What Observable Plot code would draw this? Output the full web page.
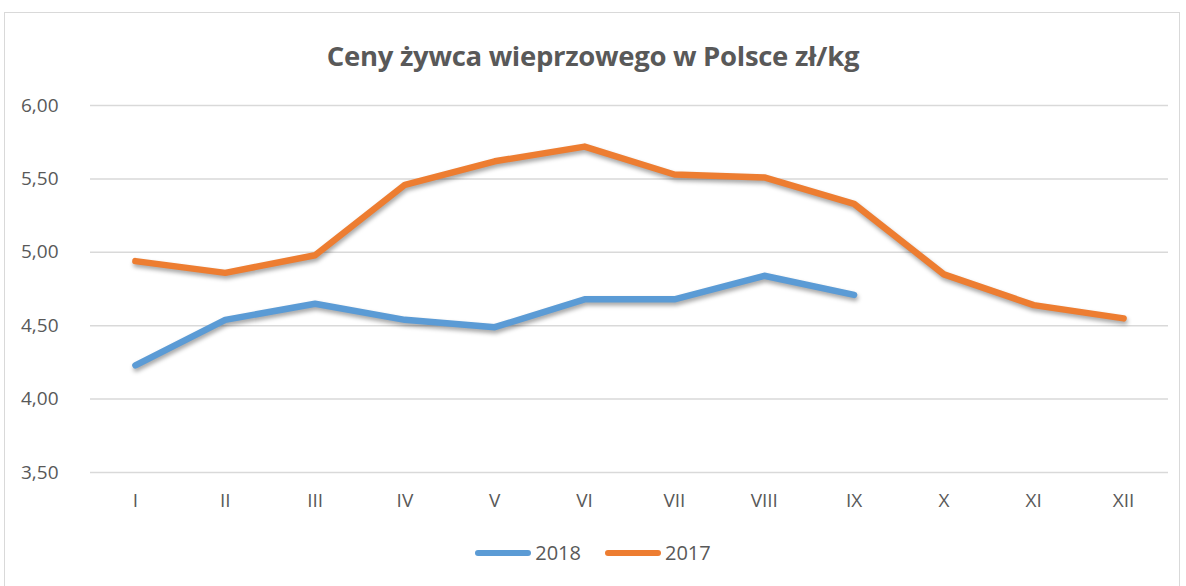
<!DOCTYPE html>
<html>
<head>
<meta charset="utf-8">
<script src="https://cdn.jsdelivr.net/npm/d3@7"></script>
<script src="https://cdn.jsdelivr.net/npm/@observablehq/plot@0.6"></script>
<style>
  html, body { margin: 0; padding: 0; background: #fff; overflow: hidden; }
  body { width: 1186px; height: 586px; position: relative; font-family: "Open Sans", sans-serif; }
  #frame { position: absolute; left: 4px; top: 12px; width: 1176px; height: 600px; border: 1.5px solid #d9d9d9; box-sizing: border-box; }
  #title { position: absolute; left: 0; top: 36px; width: 1186px; text-align: center; font-size: 27.5px; font-weight: bold; color: #595959; letter-spacing: -0.3px; line-height: 40px; }
  #chart { position: absolute; left: 0; top: 0; }
  #legend { position: absolute; left: 0; top: 539px; width: 1186px; display: flex; justify-content: center; gap: 24px; font-size: 20px; color: #595959; line-height: 28px; }
  .item { display: flex; align-items: center; }
  .sw { width: 56px; height: 6px; border-radius: 3px; margin-right: 4px; }
</style>
</head>
<body>
<div id="frame"></div>
<div id="chart"></div>
<div id="title">Ceny żywca wieprzowego w Polsce zł/kg</div>
<div id="legend"></div>
<script>
const months = ["I","II","III","IV","V","VI","VII","VIII","IX","X","XI","XII"];
const series = ["2018", "2017"];
const values2018 = [4.23, 4.54, 4.65, 4.54, 4.49, 4.68, 4.68, 4.84, 4.71];
const values2017 = [4.94, 4.86, 4.98, 5.46, 5.62, 5.72, 5.53, 5.51, 5.33, 4.85, 4.64, 4.55];
const yTicks = [3.5, 4.0, 4.5, 5.0, 5.5, 6.0];
const colors = ["#5B9BD5", "#ED7D31"];

const data = [
  ...values2018.map((v, i) => ({month: months[i], value: v, year: "2018"})),
  ...values2017.map((v, i) => ({month: months[i], value: v, year: "2017"}))
];

const fmt = d => d.toFixed(2).replace(".", ",");

const chart = Plot.plot({
  width: 1186,
  height: 520,
  marginLeft: 90,
  marginRight: 18,
  marginTop: 105,
  marginBottom: 48,
  style: { fontFamily: "Open Sans, sans-serif", fontSize: "19px", color: "#595959", background: "transparent" },
  x: { type: "point", domain: months, padding: 0.5, round: false, label: null },
  y: { domain: [3.5, 6.0], label: null },
  color: { domain: series, range: colors },
  marks: [
    Plot.gridY(yTicks, { stroke: "#d9d9d9", strokeOpacity: 1, strokeWidth: 1.5 }),
    Plot.axisY(yTicks, { tickSize: 0, tickPadding: 32, tickFormat: fmt, label: null, fill: "#595959" }),
    Plot.axisX({ tickSize: 0, tickPadding: 21, label: null, fill: "#595959" }),
    Plot.lineY(data, {
      x: "month", y: "value", z: "year", stroke: "year",
      strokeWidth: 6.5, strokeLinecap: "round", strokeLinejoin: "round"
    })
  ]
});
chart.querySelectorAll("g[aria-label='line'] path").forEach(p => p.style.filter = "drop-shadow(1px 3px 2px rgba(0,0,0,0.35))");
document.getElementById("chart").appendChild(chart);

const legend = document.getElementById("legend");
series.forEach((s, i) => {
  const item = document.createElement("div");
  item.className = "item";
  const sw = document.createElement("div");
  sw.className = "sw";
  sw.style.background = colors[i];
  const t = document.createElement("span");
  t.textContent = s;
  item.appendChild(sw);
  item.appendChild(t);
  legend.appendChild(item);
});
</script>
</body>
</html>
